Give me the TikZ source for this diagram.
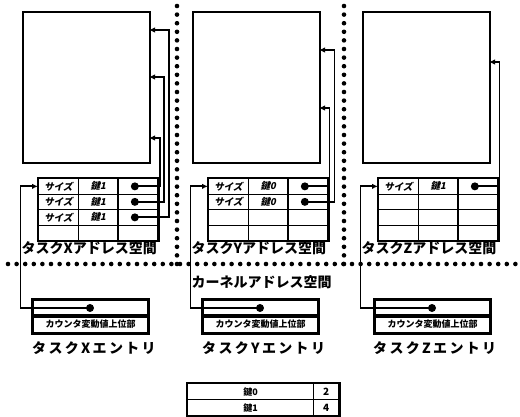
\documentclass[tikz,border=0pt]{standalone}
\usepackage{fontspec}
\newfontfamily\jp{Noto Sans CJK JP}
\newfontfamily\jpsl{Noto Sans CJK JP}[FakeSlant=0.2]
\usetikzlibrary{arrows.meta}
\newcommand\mktable[3]{%
  \foreach \r in {1,...,4}{\foreach \c in {1,2,3}{
    \node[cell] (#1-\r-\c) at ({#2+(\c-1)*39.7},{#3+(\r-1)*15.5}) {};}}
  \draw[line width=2.4] (#1-1-1.north west) rectangle (#1-4-3.south east);}
\begin{document}
\begin{tikzpicture}[x=1pt,y=-1pt,
  spacebox/.style={draw,line width=2,minimum width=127,minimum height=151,inner sep=0,anchor=north west},
  cell/.style={draw,line width=1.2,minimum width=39.7,minimum height=15.5,inner sep=0,anchor=north west},
  ctext/.style={inner sep=0,font=\jpsl\bfseries\fontsize{9.5}{10}\selectfont},
  dotn/.style={circle,fill,minimum size=8,inner sep=0},
  conn/.style={line width=1.9},
  tip/.style={-{Latex[length=6pt,width=5.5pt]}},
  entry/.style={draw,line width=3.4,minimum width=116,minimum height=34,inner sep=0,anchor=north west},
  etext/.style={inner sep=0,font=\jp\bfseries\fontsize{9}{10}\selectfont},
  lbl/.style={inner sep=0,anchor=west,font=\jp\bfseries\fontsize{14}{15}\selectfont},
  elbl/.style={inner sep=0,anchor=west,font=\jp\bfseries\fontsize{14}{15}\selectfont},
  dots/.style={line width=4.6,dash pattern=on 0pt off 8.6pt,line cap=round},
  btcell/.style={draw,line width=1.2,minimum height=16,inner sep=0,anchor=north west}
]
\useasboundingbox (0,0) rectangle (520,416);
% dotted separators
\draw[dots] (8,264) -- (520,264);
\draw[dots] (177,6) -- (177,264);
\draw[dots] (344,6) -- (344,264);
% address space boxes
\node[spacebox] (sx) at (22,11) {};
\node[spacebox] (sy) at (192,11) {};
\node[spacebox] (sz) at (362,11) {};
% tables
\mktable{tx}{38}{178}
\mktable{ty}{208}{178}
\mktable{tz}{378}{178}
% cell texts
\foreach \r in {1,2,3}{
  \node[ctext] (tx-s\r) at (tx-\r-1) {サイズ};
  \node[ctext] (tx-k\r) at (tx-\r-2) {鍵1};
  \node[dotn] (tx-d\r) at ([xshift=-3pt]tx-\r-3.center) {};}
\foreach \r in {1,2}{
  \node[ctext] (ty-s\r) at (ty-\r-1) {サイズ};
  \node[ctext] (ty-k\r) at (ty-\r-2) {鍵0};
  \node[dotn] (ty-d\r) at ([xshift=-3pt]ty-\r-3.center) {};}
\node[ctext] (tz-s1) at (tz-1-1) {サイズ};
\node[ctext] (tz-k1) at (tz-1-2) {鍵1};
\node[dotn] (tz-d1) at ([xshift=-3pt]tz-1-3.center) {};
% arrow targets on the address space boxes
\coordinate (ax1) at (149,138);
\coordinate (ax2) at (149,77);
\coordinate (ax3) at (149,30);
\coordinate (ay1) at (319,108);
\coordinate (ay2) at (319,50);
\coordinate (az1) at (489,62);
\draw[conn,tip] (tx-d1.center) -| ([xshift=11pt]ax1) -- (ax1);
\draw[conn,tip] (tx-d2.center) -| ([xshift=15pt]ax2) -- (ax2);
\draw[conn,tip] (tx-d3.center) -| ([xshift=20pt]ax3) -- (ax3);
\draw[conn,tip] (ty-d1.center) -| ([xshift=10.5pt]ay1) -- (ay1);
\draw[conn,tip] (ty-d2.center) -| ([xshift=15.5pt]ay2) -- (ay2);
\draw[conn,tip] (tz-d1.center) -| ([xshift=10.5pt]az1) -- (az1);
% labels
\node[lbl] (lx) at (21.5,248) {タスクXアドレス空間};
\node[lbl] (ly) at (191.5,248) {タスクYアドレス空間};
\node[lbl] (lz) at (361.5,248) {タスクZアドレス空間};
\node[lbl] (lk) at (191.5,282) {カーネルアドレス空間};
% entries
\foreach \n/\x in {ex/31,ey/201,ez/373}{
  \node[entry] (\n) at (\x,298) {};
  \draw[line width=3.4] ([yshift=-18pt]\n.north west) -- ([yshift=-18pt]\n.north east);
  \node[etext] (\n-t) at ([yshift=-26pt]\n.north) {カウンタ変動値上位部};
  \node[dotn] (\n-d) at ([xshift=59pt,yshift=-10pt]\n.north west) {};}
\draw[conn,tip] (ex-d.center) -| ([xshift=-17.5pt]tx-1-1.west) -- (tx-1-1.west);
\draw[conn,tip] (ey-d.center) -| ([xshift=-17.5pt]ty-1-1.west) -- (ty-1-1.west);
\draw[conn,tip] (ez-d.center) -| ([xshift=-17.5pt]tz-1-1.west) -- (tz-1-1.west);
\node[elbl] (lex) at (32,348) {タ\,ス\,ク\,X\,エ\,ン\,ト\,リ};
\node[elbl] (ley) at (202,348) {タ\,ス\,ク\,Y\,エ\,ン\,ト\,リ};
\node[elbl] (lez) at (373,348) {タ\,ス\,ク\,Z\,エ\,ン\,ト\,リ};
% bottom key table
\node[btcell,minimum width=126] (b11) at (187,383) {};
\node[btcell,minimum width=25] (b12) at (313,383) {};
\node[btcell,minimum width=126] (b21) at (187,399) {};
\node[btcell,minimum width=25] (b22) at (313,399) {};
\draw[line width=2.6] (b11.north west) rectangle (b22.south east);
\node[ctext,font=\jp\bfseries\fontsize{9}{10}\selectfont] (b11t) at (b11) {鍵0};
\node[ctext,font=\jp\bfseries\fontsize{10}{10}\selectfont] (b12t) at (b12) {2};
\node[ctext,font=\jp\bfseries\fontsize{9}{10}\selectfont] (b21t) at (b21) {鍵1};
\node[ctext,font=\jp\bfseries\fontsize{10}{10}\selectfont] (b22t) at (b22) {4};
\end{tikzpicture}
\end{document}
